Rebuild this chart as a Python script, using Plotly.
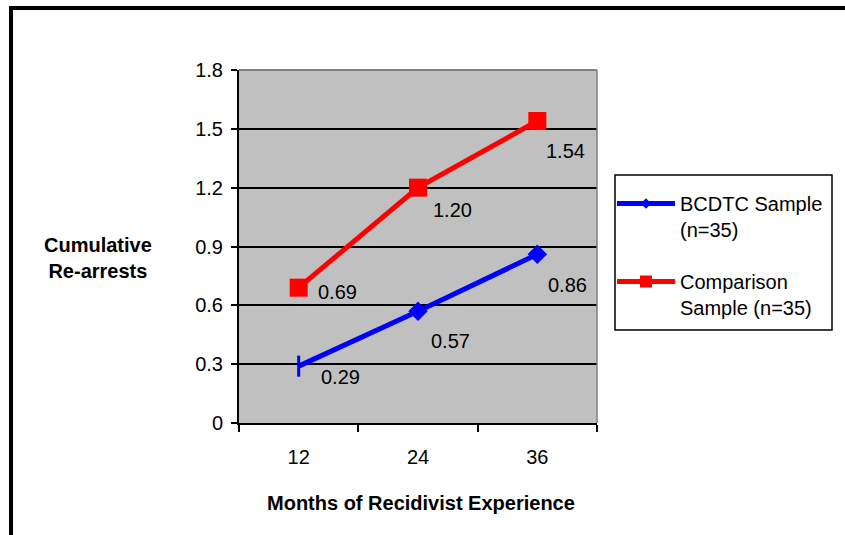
import plotly.graph_objects as go

# Months since release and mean cumulative re-arrests per group
months = ["12", "24", "36"]
bcdtc = [0.29, 0.57, 0.86]
comparison = [0.69, 1.20, 1.54]
y_ticks = [0, 0.3, 0.6, 0.9, 1.2, 1.5, 1.8]

# pixel offsets of the value labels (right, down) relative to each marker
bcdtc_label_offsets = [(20, 11), (11, 30), (9, 31)]
comparison_label_offsets = [(17, 4), (13, 22), (7, 30)]

FONT = "Arial, Liberation Sans, sans-serif"
W, H = 845, 535
L, R, T, B = 239, 597, 70, 423  # plot-area edges in pixels


def px(x):
    return (x - L) / (R - L)


def py(y):
    return (B - y) / (B - T)


fig = go.Figure()

fig.add_trace(go.Scatter(
    x=months, y=bcdtc, mode="lines+markers", showlegend=False,
    line=dict(color="#0000FF", width=5),
    marker=dict(symbol=["line-ns", "diamond", "diamond"], size=15,
                color="#0000FF",
                line=dict(color="#0000FF", width=[3, 0, 0])),
))
fig.add_trace(go.Scatter(
    x=months, y=comparison, mode="lines+markers", showlegend=False,
    line=dict(color="#FF0000", width=5),
    marker=dict(symbol="square", size=18, color="#FF0000"),
))

# legend entries
fig.add_trace(go.Scatter(
    x=[None], y=[None], mode="lines+markers", name="BCDTC Sample<br>(n=35)",
    legendgroup="a",
    line=dict(color="#0000FF", width=5),
    marker=dict(symbol="diamond", size=8, color="#0000FF"),
))
fig.add_trace(go.Scatter(
    x=[None], y=[None], mode="lines+markers", name="Comparison<br>Sample (n=35)",
    legendgroup="b",
    line=dict(color="#FF0000", width=5),
    marker=dict(symbol="square", size=12, color="#FF0000"),
))

annotations = []
for vals, offs in ((bcdtc, bcdtc_label_offsets), (comparison, comparison_label_offsets)):
    for i, (v, (dx, dy)) in enumerate(zip(vals, offs)):
        annotations.append(dict(
            x=i, y=v, xref="x", yref="y", text=f"{v:.2f}", showarrow=False,
            xanchor="left", yanchor="middle", xshift=dx, yshift=-dy,
            font=dict(family=FONT, size=20, color="black"),
        ))

annotations.append(dict(
    x=px(98), y=py(258), xref="paper", yref="paper",
    text="<b>Cumulative<br>Re-arrests</b>", showarrow=False,
    xanchor="center", yanchor="middle",
    font=dict(family=FONT, size=20, color="black"),
))
annotations.append(dict(
    x=px(420.5), y=py(503), xref="paper", yref="paper",
    text="<b>Months of Recidivist Experience</b>", showarrow=False,
    xanchor="center", yanchor="middle",
    font=dict(family=FONT, size=20, color="black"),
))

shapes = [
    # grey top and right edges of the plot area
    dict(type="line", xref="paper", yref="paper", x0=0, x1=1, y0=1, y1=1,
         line=dict(color="#808080", width=2), layer="above"),
    dict(type="line", xref="paper", yref="paper", x0=1, x1=1, y0=0, y1=1,
         line=dict(color="#808080", width=1.5), layer="above"),
    # legend box
    dict(type="rect", xref="paper", yref="paper", x0=px(615), x1=px(832),
         y0=py(175), y1=py(330), line=dict(color="black", width=1.5),
         fillcolor="white", layer="above"),
    # outer black frame
    dict(type="line", xref="paper", yref="paper", x0=px(9), x1=px(850),
         y0=py(8), y1=py(8), line=dict(color="black", width=4)),
    dict(type="line", xref="paper", yref="paper", x0=px(11), x1=px(11),
         y0=py(6), y1=py(545), line=dict(color="black", width=4)),
]

fig.update_layout(
    width=W, height=H,
    margin=dict(l=L, r=W - R, t=T, b=H - B),
    paper_bgcolor="white", plot_bgcolor="#C0C0C0",
    font=dict(family=FONT, size=20, color="black"),
    annotations=annotations, shapes=shapes,
    legend=dict(
        x=px(612), y=py(184), xanchor="left", yanchor="top",
        bgcolor="rgba(0,0,0,0)", borderwidth=0,
        font=dict(family=FONT, size=20, color="black"),
        valign="top", itemwidth=58, tracegroupgap=23,
    ),
    xaxis=dict(
        type="category", range=[-0.5, 2.5], tickson="boundaries",
        showgrid=False, showline=True, linecolor="black", linewidth=2,
        ticks="outside", ticklen=7, tickwidth=2, tickcolor="black",
        ticklabelstandoff=15,
        tickfont=dict(family=FONT, size=20),
    ),
    yaxis=dict(
        range=[0, 1.8], tickvals=y_ticks,
        showgrid=True, gridcolor="black", gridwidth=1.5, zeroline=False,
        showline=True, linecolor="black", linewidth=2,
        ticks="outside", ticklen=6, tickwidth=2, tickcolor="black",
        ticklabelstandoff=4,
        tickfont=dict(family=FONT, size=20),
    ),
)

fig.write_html("out.html")
